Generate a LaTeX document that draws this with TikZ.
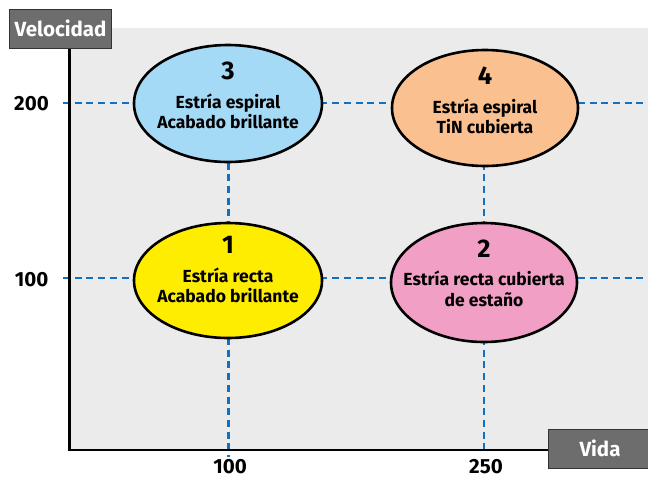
\documentclass[tikz,border=0pt]{standalone}
\usepackage{fontspec}
\setmainfont{Fira Sans}
\usetikzlibrary{shapes.geometric}
\definecolor{bggray}{HTML}{EBEBEB}
\definecolor{boxgray}{HTML}{6D6D6D}
\definecolor{gridblue}{HTML}{1170C0}
\definecolor{cblue}{HTML}{A5DAF6}
\definecolor{cyellow}{HTML}{FFED00}
\definecolor{cpeach}{HTML}{FAC08F}
\definecolor{cpink}{HTML}{F29FC5}
\tikzset{
  grid line/.style={draw=gridblue, line width=2.8pt, dash pattern=on 7pt off 4.7pt},
  zone/.style={ellipse, draw=black, line width=2.6pt, inner sep=0pt},
  zonetext/.style={anchor=base, inner sep=0pt, font=\fontsize{17.5}{20}\selectfont\bfseries},
  zonenum/.style={anchor=base, inner sep=0pt, font=\fontsize{25.5}{28}\selectfont\bfseries},
  axislabel/.style={draw=black!80, fill=boxgray, line width=1pt, text=white, font=\fontsize{20.5}{22}\selectfont\bfseries, inner sep=0pt},
  tick/.style={anchor=base, inner sep=0pt, font=\fontsize{20.5}{22}\selectfont\bfseries, text=black},
}
\begin{document}
\begin{tikzpicture}[x=1pt,y=-1pt]
\useasboundingbox (0,0) rectangle (648,477);
\fill[bggray] (70,28) rectangle (648,450);
% grid
\coordinate (h2a) at (63,103);
\coordinate (h2b) at (648,103);
\coordinate (h1a) at (63,278);
\coordinate (h1b) at (648,278);
\coordinate (v1a) at (228.5,104);
\coordinate (v1b) at (228.5,457);
\coordinate (v2a) at (484,104);
\coordinate (v2b) at (484,452);
\draw[grid line] (h2a) -- (h2b);
\draw[grid line] (h1a) -- (h1b);
\draw[grid line] (v1a) -- (v1b);
\draw[grid line] (v2a) -- (v2b);
% axes
\coordinate (ytop) at (69.5,48);
\coordinate (orig) at (69.5,450);
\coordinate (xend) at (548,450);
\draw[black, line width=2.4pt, line cap=rect] (ytop) -- (orig) -- (xend);
\node[axislabel, minimum width=102pt, minimum height=39pt] (vel) at (60.5,28.8) {Velocidad};
\node[axislabel, minimum width=104pt, minimum height=39pt] (vida) at (600,448.5) {Vida};
% ticks
\node[tick] (t200) at (31.5,110) {200};
\node[tick] (t100) at (31.5,286) {100};
\node[tick] (x100) at (230,473) {100};
\node[tick] (x250) at (486,473) {250};
% zones
\node[zone, fill=cblue, minimum width=188pt, minimum height=117pt] (e3) at (228,103.5) {};
\node[zone, fill=cpeach, minimum width=186pt, minimum height=116pt] (e4) at (485,108) {};
\node[zone, fill=cyellow, minimum width=188pt, minimum height=115pt] (e1) at (228,280.5) {};
\node[zone, fill=cpink, minimum width=186pt, minimum height=119pt] (e2) at (484,282.5) {};
% zone texts
\node[zonenum] (e3n) at ([yshift=24.5pt]e3.center) {3};
\node[zonetext] (e3a) at ([yshift=-4.5pt]e3.center) {Estría espiral};
\node[zonetext] (e3b) at ([yshift=-24.5pt]e3.center) {Acabado brillante};
\node[zonenum] (e4n) at ([yshift=24pt]e4.center) {4};
\node[zonetext] (e4a) at ([yshift=-5pt]e4.center) {Estría espiral};
\node[zonetext] (e4b) at ([yshift=-25pt]e4.center) {TiN cubierta};
\node[zonenum] (e1n) at ([yshift=27.5pt]e1.center) {1};
\node[zonetext] (e1a) at ([yshift=-1.5pt]e1.center) {Estría recta};
\node[zonetext] (e1b) at ([yshift=-21.5pt]e1.center) {Acabado brillante};
\node[zonenum] (e2n) at ([yshift=25.5pt]e2.center) {2};
\node[zonetext] (e2a) at ([yshift=-2.5pt]e2.center) {Estría recta cubierta};
\node[zonetext] (e2b) at ([yshift=-23.5pt]e2.center) {de estaño};
\end{tikzpicture}
\end{document}
